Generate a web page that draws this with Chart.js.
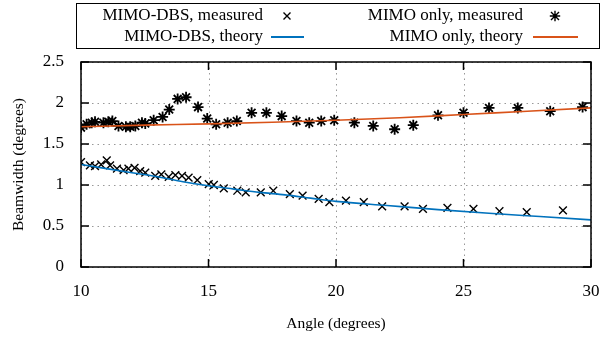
<!DOCTYPE html>
<html lang="en">
<head>
    <meta charset="UTF-8">
    <title>Beamwidth vs Angle</title>
    <style>
        body {
            margin: 0;
            padding: 0;
            background: #fff;
        }
        #beamChart {
            display: block;
        }
    </style>
    <script src="https://cdn.jsdelivr.net/npm/chart.js"></script>
</head>
<body>

<canvas id="beamChart" width="613" height="337"></canvas>

<script>
    // Measured MIMO-DBS beamwidth (crosses)
    const dbsAngle = [10.0, 10.35, 10.55, 10.79, 11.01, 11.14, 11.41, 11.67, 11.86, 12.10, 12.32, 12.52, 12.91, 13.15, 13.44, 13.70, 13.96, 14.22, 14.56, 15.01, 15.21, 15.60, 16.13, 16.46, 17.05, 17.54, 18.19, 18.69, 19.32, 19.74, 20.39, 21.09, 21.81, 22.69, 23.41, 24.37, 25.39, 26.41, 27.48, 28.90];
    const dbsMeasured = [1.28, 1.24, 1.23, 1.25, 1.30, 1.24, 1.20, 1.18, 1.20, 1.21, 1.17, 1.15, 1.11, 1.13, 1.10, 1.12, 1.11, 1.09, 1.06, 1.01, 1.00, 0.96, 0.93, 0.91, 0.91, 0.93, 0.89, 0.87, 0.83, 0.79, 0.81, 0.79, 0.74, 0.74, 0.71, 0.72, 0.71, 0.68, 0.67, 0.69];

    // Measured MIMO only beamwidth (asterisks)
    const mimoAngle = [10.0, 10.22, 10.42, 10.55, 10.88, 11.07, 11.23, 11.47, 11.76, 11.93, 12.13, 12.39, 12.52, 12.85, 13.2, 13.46, 13.79, 14.12, 14.59, 14.95, 15.30, 15.75, 16.11, 16.69, 17.27, 17.87, 18.45, 18.95, 19.42, 19.93, 20.72, 21.46, 22.30, 23.03, 24.0, 25.0, 26.0, 27.13, 28.4, 29.67];
    const mimoMeasured = [1.70, 1.74, 1.76, 1.77, 1.76, 1.77, 1.78, 1.72, 1.71, 1.71, 1.72, 1.76, 1.75, 1.79, 1.83, 1.92, 2.05, 2.07, 1.95, 1.81, 1.74, 1.76, 1.78, 1.88, 1.88, 1.84, 1.78, 1.76, 1.78, 1.79, 1.76, 1.72, 1.68, 1.73, 1.85, 1.88, 1.94, 1.94, 1.90, 1.95];

    // Theory curves
    const dbsTheoryAngle = [10, 11, 12, 13, 14, 15, 16, 17, 18, 19, 20, 22, 24, 26, 28, 30];
    const dbsTheory = [1.25, 1.20, 1.15, 1.10, 1.04, 0.99, 0.95, 0.91, 0.88, 0.84, 0.80, 0.75, 0.70, 0.655, 0.615, 0.575];
    const mimoTheoryAngle = [10, 12.5, 15, 17.5, 20, 22.5, 25, 27.5, 30];
    const mimoTheory = [1.71, 1.73, 1.745, 1.765, 1.79, 1.82, 1.86, 1.90, 1.94];

    const xTicks = [10, 15, 20, 25, 30];
    const yTicks = [0, 0.5, 1, 1.5, 2, 2.5];

    const BLUE = '#0072BD';
    const ORANGE = '#D95319';
    const SERIF = '"Liberation Serif", "Times New Roman", serif';

    function toPoints(xs, ys) {
        return xs.map((x, i) => ({ x: x, y: ys[i] }));
    }

    // dotted grid behind the data
    const gridPlugin = {
        id: 'dottedGrid',
        beforeDatasetsDraw(chart) {
            const { ctx, chartArea: a } = chart;
            ctx.save();
            ctx.strokeStyle = '#999';
            ctx.lineWidth = 1;
            ctx.setLineDash([1.5, 4]);
            ctx.beginPath();
            xTicks.forEach(t => {
                const px = Math.round(chart.scales.x.getPixelForValue(t)) + 0.5;
                ctx.moveTo(px, a.bottom); ctx.lineTo(px, a.top);
            });
            yTicks.forEach(t => {
                const py = Math.round(chart.scales.y.getPixelForValue(t)) + 0.5;
                ctx.moveTo(a.left, py); ctx.lineTo(a.right, py);
            });
            ctx.stroke();
            ctx.restore();
        }
    };

    // frame with inward ticks, like the original plot
    const framePlugin = {
        id: 'frame',
        afterDatasetsDraw(chart) {
            const { ctx, chartArea: a } = chart;
            ctx.save();
            ctx.strokeStyle = '#000';
            ctx.lineWidth = 1.5;
            ctx.strokeRect(a.left, a.top, a.right - a.left, a.bottom - a.top);
            const tl = 8;
            ctx.beginPath();
            xTicks.forEach(t => {
                const px = chart.scales.x.getPixelForValue(t);
                ctx.moveTo(px, a.bottom); ctx.lineTo(px, a.bottom - tl);
                ctx.moveTo(px, a.top); ctx.lineTo(px, a.top + tl);
            });
            yTicks.forEach(t => {
                const py = chart.scales.y.getPixelForValue(t);
                ctx.moveTo(a.left, py); ctx.lineTo(a.left + tl, py);
                ctx.moveTo(a.right, py); ctx.lineTo(a.right - tl, py);
            });
            ctx.stroke();
            ctx.restore();
        }
    };

    // gnuplot style key: text right aligned, sample on the right
    const keyPlugin = {
        id: 'key',
        afterDraw(chart) {
            const ctx = chart.ctx;
            ctx.save();
            ctx.strokeStyle = '#000';
            ctx.lineWidth = 1;
            ctx.strokeRect(76.5, 3.5, 523, 45);
            ctx.font = '17px ' + SERIF;
            ctx.fillStyle = '#000';
            ctx.textAlign = 'right';
            ctx.textBaseline = 'middle';
            const rows = [16, 37];
            ctx.fillText('MIMO-DBS, measured', 263, rows[0]);
            ctx.fillText('MIMO only, measured', 523, rows[0]);
            ctx.fillText('MIMO-DBS, theory', 263, rows[1]);
            ctx.fillText('MIMO only, theory', 523, rows[1]);

            // cross
            ctx.lineWidth = 1.4;
            ctx.beginPath();
            let cx = 287, cy = rows[0], r = 3.5;
            ctx.moveTo(cx - r, cy - r); ctx.lineTo(cx + r, cy + r);
            ctx.moveTo(cx - r, cy + r); ctx.lineTo(cx + r, cy - r);
            // asterisk
            cx = 555; r = 4;
            ctx.moveTo(cx - r, cy - r); ctx.lineTo(cx + r, cy + r);
            ctx.moveTo(cx - r, cy + r); ctx.lineTo(cx + r, cy - r);
            ctx.moveTo(cx - r * 1.3, cy); ctx.lineTo(cx + r * 1.3, cy);
            ctx.moveTo(cx, cy - r * 1.3); ctx.lineTo(cx, cy + r * 1.3);
            ctx.stroke();

            ctx.lineWidth = 1.8;
            ctx.strokeStyle = BLUE;
            ctx.beginPath();
            ctx.moveTo(271, rows[1]); ctx.lineTo(304, rows[1]);
            ctx.stroke();
            ctx.strokeStyle = ORANGE;
            ctx.beginPath();
            ctx.moveTo(533, rows[1]); ctx.lineTo(578, rows[1]);
            ctx.stroke();
            ctx.restore();
        }
    };

    const ctx = document.getElementById('beamChart').getContext('2d');
    const beamChart = new Chart(ctx, {
        type: 'scatter',
        data: {
            datasets: [
                {
                    label: 'MIMO-DBS, theory',
                    type: 'line',
                    data: toPoints(dbsTheoryAngle, dbsTheory),
                    borderColor: BLUE,
                    borderWidth: 1.6,
                    pointRadius: 0,
                    cubicInterpolationMode: 'monotone',
                    fill: false
                },
                {
                    label: 'MIMO only, theory',
                    type: 'line',
                    data: toPoints(mimoTheoryAngle, mimoTheory),
                    borderColor: ORANGE,
                    borderWidth: 1.6,
                    pointRadius: 0,
                    cubicInterpolationMode: 'monotone',
                    fill: false
                },
                {
                    label: 'MIMO-DBS, measured',
                    data: toPoints(dbsAngle, dbsMeasured),
                    pointStyle: 'crossRot',
                    pointRadius: 5.5,
                    borderColor: '#000',
                    borderWidth: 1.4,
                    backgroundColor: '#000'
                },
                {
                    label: 'MIMO only, measured',
                    data: toPoints(mimoAngle, mimoMeasured),
                    pointStyle: 'star',
                    pointRadius: 5.5,
                    borderColor: '#000',
                    borderWidth: 1.8,
                    backgroundColor: '#000'
                }
            ]
        },
        options: {
            responsive: false,
            animation: false,
            devicePixelRatio: 1,
            layout: {
                padding: { top: 62, right: 22, left: 0, bottom: 0 }
            },
            plugins: {
                legend: { display: false },
                tooltip: { enabled: false }
            },
            scales: {
                x: {
                    type: 'linear',
                    min: 10,
                    max: 30,
                    afterBuildTicks: scale => { scale.ticks = xTicks.map(v => ({ value: v })); },
                    afterFit: scale => { scale.height = 70; },
                    ticks: {
                        color: '#000',
                        font: { family: SERIF, size: 17 },
                        padding: 6,
                        callback: v => String(v)
                    },
                    grid: { display: false },
                    border: { display: false },
                    title: {
                        display: true,
                        text: 'Angle (degrees)',
                        color: '#000',
                        font: { family: SERIF, size: 15.5 },
                        padding: { top: 0, bottom: 4 }
                    }
                },
                y: {
                    min: 0,
                    max: 2.5,
                    afterBuildTicks: scale => { scale.ticks = yTicks.map(v => ({ value: v })); },
                    afterFit: scale => { scale.width = 81; },
                    ticks: {
                        color: '#000',
                        font: { family: SERIF, size: 17 },
                        padding: 9,
                        callback: v => String(v)
                    },
                    grid: { display: false },
                    border: { display: false },
                    title: {
                        display: true,
                        text: 'Beamwidth (degrees)',
                        color: '#000',
                        font: { family: SERIF, size: 15.5 },
                        padding: { top: 10, bottom: 0 }
                    }
                }
            }
        },
        plugins: [gridPlugin, framePlugin, keyPlugin]
    });
</script>

</body>
</html>
